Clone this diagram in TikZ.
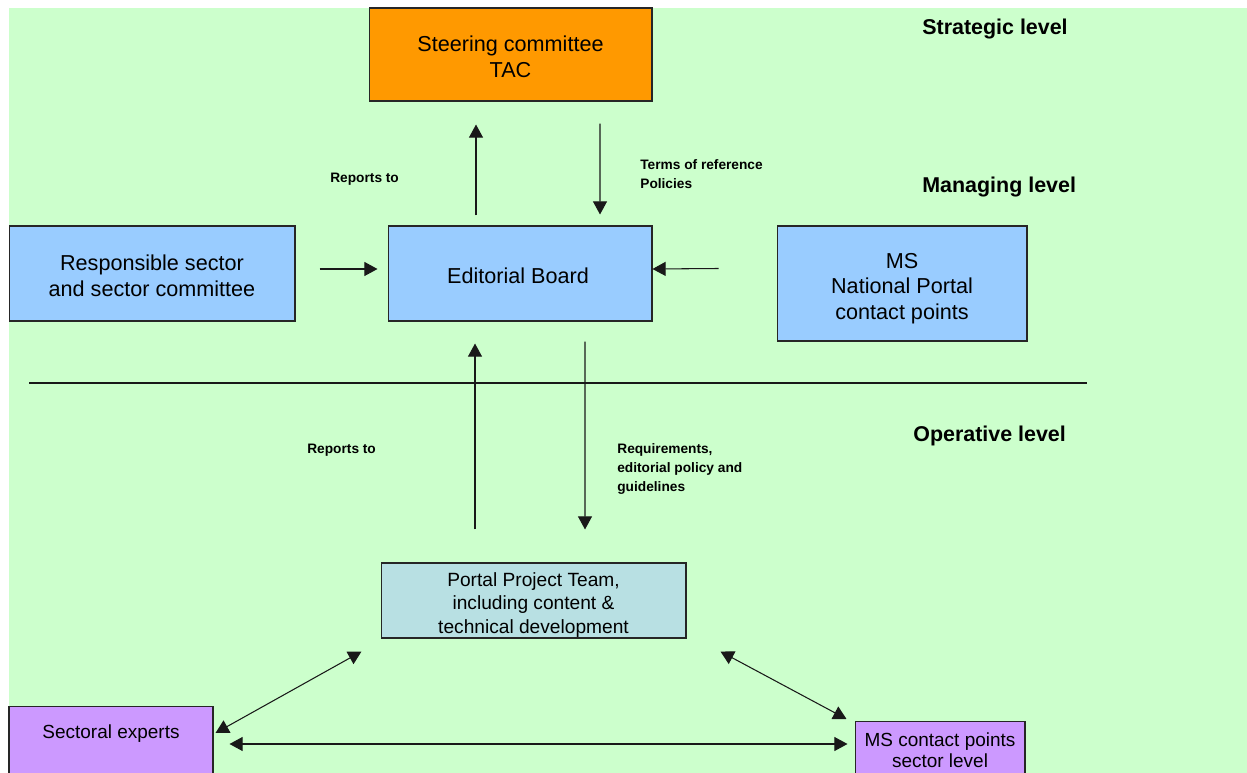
\documentclass[tikz,border=0pt]{standalone}
\usepackage{fontspec}
\setmainfont{Liberation Sans}
\usetikzlibrary{arrows.meta,calc,positioning}
\definecolor{bggreen}{HTML}{CCFFCC}
\definecolor{tacorange}{HTML}{FF9900}
\definecolor{boardblue}{HTML}{99CCFF}
\definecolor{teamteal}{HTML}{B8E0E3}
\definecolor{expertpurple}{HTML}{CC99FF}
\tikzset{
  box/.style={draw=black!85, line width=0.6pt, inner sep=0pt},
  boxtext/.style={align=center, inner sep=0pt, font=\fontsize{12.3}{14.6}\selectfont},
  smalltext/.style={align=center, inner sep=0pt, font=\fontsize{10.8}{12}\selectfont},
  level/.style={anchor=west, inner sep=0pt, font=\fontsize{12.2}{14}\selectfont\bfseries},
  note/.style={anchor=west, align=left, inner sep=0pt,
    font=\fontsize{7.8}{10.9}\selectfont\bfseries},
  flow/.style={-{Triangle[length=7.5pt,width=8pt]}, line width=0.6pt, draw=black!90},
  both/.style={flow, {Triangle[length=7.5pt,width=8pt]}-{Triangle[length=7.5pt,width=8pt]}}
}
\begin{document}
\begin{tikzpicture}[x=0.02cm, y=-0.02cm]
  \useasboundingbox (0,0) rectangle (1247,773);
  \clip (0,0) rectangle (1247,773);
  \fill[bggreen] (9,8) rectangle (1247,773);

  % levels
  \node[level] (strategic) at (922,29) {Strategic level};
  \node[level] (managing) at (922,187) {Managing level};
  \node[level] (operative) at (913,436) {Operative level};

  % boxes
  \node[box, fill=tacorange, minimum width=5.66cm, minimum height=1.86cm] (tac) at (510.5,54.5) {};
  \node[boxtext] (tactext) at ($(tac)+(0,2)$) {Steering committee\\TAC};
  \node[box, fill=boardblue, minimum width=5.28cm, minimum height=1.9cm] (board) at (520,273.5) {};
  \node[boxtext] (boardtext) at ($(board)+(-2,2)$) {Editorial Board};
  \node[box, fill=boardblue, minimum width=5.72cm, minimum height=1.9cm] (sector) at (152,273.5) {};
  \node[boxtext] (sectortext) at ($(sector)+(0,2.5)$) {Responsible sector\\and sector committee};
  \node[box, fill=boardblue, minimum width=5cm, minimum height=2.3cm] (portals) at (902,283.5) {};
  \node[boxtext] (portalstext) at ($(portals)+(0,5)$) {MS\\National Portal\\contact points};
  \node[box, fill=teamteal, minimum width=6.1cm, minimum height=1.5cm] (team) at (533.5,600.5) {};
  \node[smalltext, font=\fontsize{10.9}{13.5}\selectfont] (teamtext) at ($(team)+(0,4.5)$) {Portal Project Team,\\including content \&\\technical development};
  \node[box, fill=expertpurple, anchor=north, minimum width=4.08cm, minimum height=2cm] (experts) at (111,706) {};
  \node[smalltext, below=10.5pt of experts.north] (expertstext) {Sectoral experts};
  \node[box, fill=expertpurple, anchor=north, minimum width=3.4cm, minimum height=2cm] (mscp) at (940,721) {};
  \node[smalltext, below=6.5pt of mscp.north] (mscptext) {MS contact points\\sector level};

  % labels
  \node[note] (reportsup) at (330,179.5) {Reports to};
  \node[note] (terms) at (640,174.5) {Terms of reference\\Policies};
  \node[note] (reportslow) at (307,450.5) {Reports to};
  \node[note] (reqs) at (617,469) {Requirements,\\editorial policy and\\guidelines};

  \draw[line width=0.6pt, black!90] (29,383) -- (1087,383);

  % arrows
  \draw[flow] ($(board.north)+(-44,-10)$) -- ($(tac.south)+(-34.5,23)$);
  \draw[flow] ($(tac.south)+(89.5,22)$) -- ($(board.north)+(80,-11)$);
  \draw[flow] ($(sector.east)+(24,-4.5)$) -- ($(board.west)+(-10,-4.5)$);
  \draw[flow] ($(portals.west)+(-58,-15)$) -- ($(board.east)+(0,-4.5)$);
  \draw[flow] ($(team.north)+(-58.5,-33)$) -- ($(board.south)+(-45,22)$);
  \draw[flow] ($(board.south)+(65,20)$) -- ($(team.north)+(51.5,-33)$);
  \draw[both] ($(experts.north east)+(2,27)$) -- ($(team.south west)+(-19,13)$);
  \draw[both] ($(team.south east)+(34,13)$) -- ($(mscp.north west)+(-8,-2)$);
  \draw[both] ($(experts.north east)+(16,38)$) -- ($(mscp.north west)+(-7,23)$);
\end{tikzpicture}
\end{document}
